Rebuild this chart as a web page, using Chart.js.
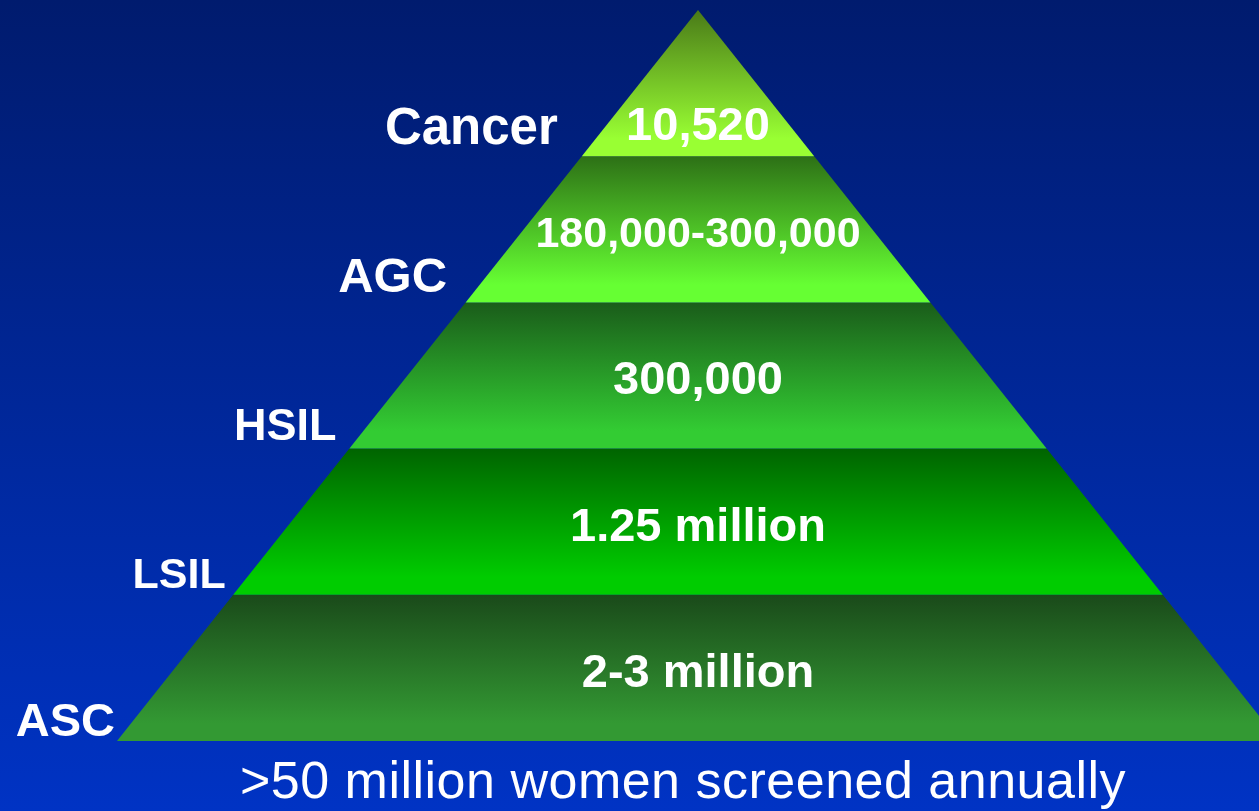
<!DOCTYPE html>
<html>
<head>
<meta charset="utf-8">
<script src="https://cdn.jsdelivr.net/npm/chart.js@4"></script>
<style>
  html, body { margin: 0; padding: 0; overflow: hidden; }
  #caja { position: relative; width: 1259px; height: 811px; }
</style>
</head>
<body>
<div id="caja"><canvas id="piramide"></canvas></div>
<script>
// Niveles de la piramide, de arriba hacia abajo
const niveles = ['Cancer', 'AGC', 'HSIL', 'LSIL', 'ASC'];
// Cifras que van dentro de cada franja
const cifras = ['10,520', '180,000-300,000', '300,000', '1.25 million', '2-3 million'];
// Texto al pie
const pie = '>50 million women screened annually';

// Colores de cada franja (arriba oscuro, abajo claro)
const colorArriba = ['#4a7a18', '#2d7016', '#1a5c1a', '#006400', '#1a4a1a'];
const colorAbajo = ['#99ff33', '#66ff33', '#33cc33', '#00cc00', '#339933'];
// tamaño de letra de los nombres
const tamNombre = [51, 49, 45, 43, 47];

const pisos = niveles.length;
// media anchura de la piramide a una altura dada (base = 1, punta = 0)
const mitad = (h) => (pisos - h) / pisos;

// Cada franja es un trapecio cerrado
const datasets = niveles.map((nivel, i) => {
  const hArriba = pisos - i;
  const hAbajo = pisos - i - 1;
  return {
    label: nivel,
    data: [
      {x: -mitad(hArriba), y: hArriba},
      {x: mitad(hArriba), y: hArriba},
      {x: mitad(hAbajo), y: hAbajo},
      {x: -mitad(hAbajo), y: hAbajo},
      {x: -mitad(hArriba), y: hArriba}
    ],
    showLine: true,
    fill: 'shape',
    tension: 0,
    pointRadius: 0,
    borderWidth: 0,
    borderColor: 'rgba(0,0,0,0)',
    backgroundColor: function (context) {
      const chart = context.chart;
      if (!chart.chartArea) return colorAbajo[i];
      const y = chart.scales.y;
      const y0 = y.getPixelForValue(hArriba);
      const y1 = y.getPixelForValue(hAbajo);
      const g = chart.ctx.createLinearGradient(0, y0, 0, y1);
      g.addColorStop(0, colorArriba[i]);
      g.addColorStop(0.88, colorAbajo[i]);
      g.addColorStop(1, colorAbajo[i]);
      return g;
    }
  };
});

// Fondo azul degradado
const fondo = {
  id: 'fondo',
  beforeDraw(chart) {
    const {ctx, width, height} = chart;
    ctx.save();
    const g = ctx.createLinearGradient(0, 0, 0, height);
    g.addColorStop(0, '#001b6e');
    g.addColorStop(1, '#0033c4');
    ctx.fillStyle = g;
    ctx.fillRect(0, 0, width, height);
    ctx.restore();
  }
};

// Nombres a la izquierda, cifras al centro y texto al pie
const textos = {
  id: 'textos',
  afterDatasetsDraw(chart) {
    const {ctx, scales: {x, y}} = chart;
    const fuente = '"Liberation Sans", Arial, sans-serif';
    ctx.save();
    ctx.fillStyle = '#ffffff';
    ctx.textBaseline = 'alphabetic';
    niveles.forEach((nivel, i) => {
      const hArriba = pisos - i;
      const hAbajo = pisos - i - 1;
      const top = y.getPixelForValue(hArriba);
      const bottom = y.getPixelForValue(hAbajo);
      const bordeIzq = x.getPixelForValue(-mitad(hAbajo));
      const resto = pisos - 1 - i;

      ctx.font = 'bold ' + tamNombre[i] + 'px ' + fuente;
      ctx.textAlign = 'right';
      ctx.fillText(nivel, bordeIzq - (2 + resto * 5.5), bottom - (5 + resto * 1.7));

      // cifra centrada, se reduce si no cabe
      const anchoBase = x.getPixelForValue(mitad(hAbajo)) - bordeIzq;
      ctx.font = 'bold 47px ' + fuente;
      const w = ctx.measureText(cifras[i]).width;
      let size = 47;
      if (w > anchoBase * 0.7) size = Math.floor(47 * anchoBase * 0.7 / w);
      ctx.font = 'bold ' + size + 'px ' + fuente;
      ctx.textAlign = 'center';
      let cy = (top + bottom) / 2 + 2;
      if (i === 0) cy = bottom - 33;
      ctx.fillText(cifras[i], x.getPixelForValue(0), cy + size * 0.358);
    });
    ctx.font = '52px ' + fuente;
    ctx.letterSpacing = '0.5px';
    ctx.textAlign = 'center';
    ctx.fillText(pie, x.getPixelForValue(0) - 15, y.getPixelForValue(0) + 57);
    ctx.restore();
  }
};

new Chart(document.getElementById('piramide'), {
  type: 'scatter',
  data: { datasets: datasets },
  options: {
    responsive: true,
    maintainAspectRatio: false,
    animation: false,
    layout: { padding: 0 },
    plugins: {
      legend: { display: false },
      tooltip: { enabled: false },
      filler: { propagate: false }
    },
    scales: {
      x: { type: 'linear', display: false, min: -1.2014, max: 0.9656 },
      y: { type: 'linear', display: false, min: -0.4788, max: 5.0684 }
    }
  },
  plugins: [fondo, textos]
});
</script>
</body>
</html>
